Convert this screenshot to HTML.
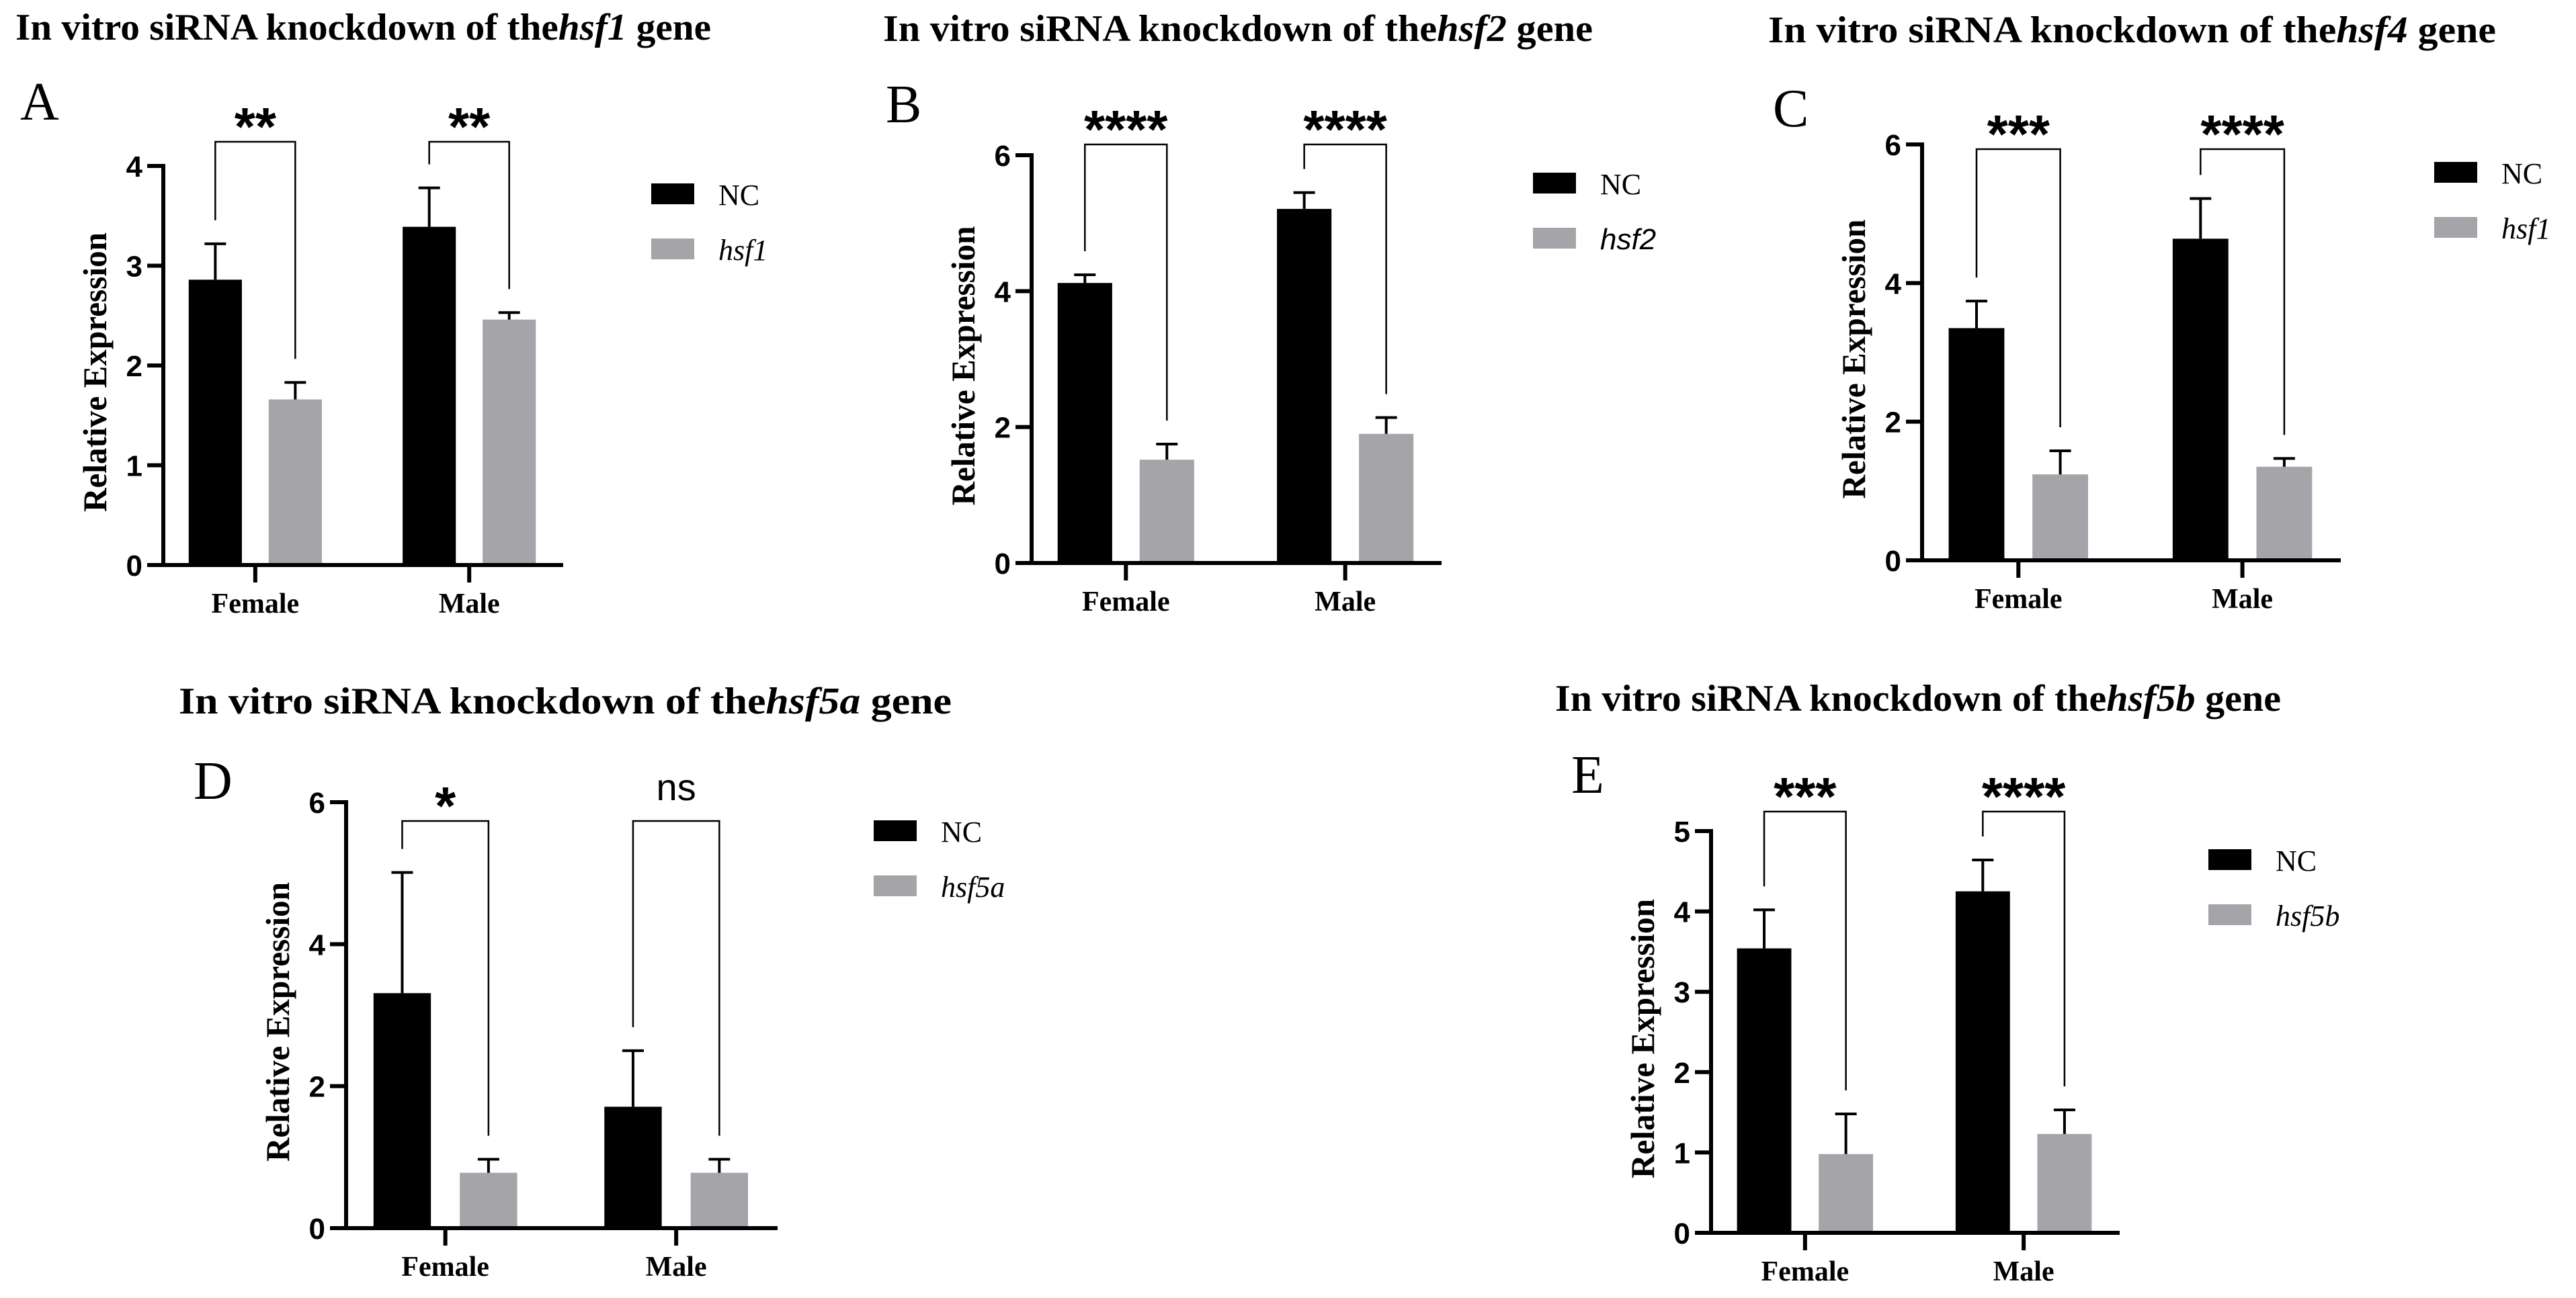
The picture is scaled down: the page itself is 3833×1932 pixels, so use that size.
<!DOCTYPE html>
<html><head><meta charset="utf-8"><style>
html,body{margin:0;padding:0;background:#fff;}
svg{display:block;}
</style></head><body>
<svg id="fig" width="3833" height="1932" viewBox="0 0 3833 1932" xmlns="http://www.w3.org/2000/svg"></svg>
<script>
// ---- data ----
const categories = ["Female", "Male"];
const seriesA = ["NC", "hsf1"];
const ncA = [2.86, 3.39];   const ncErrA = [3.22, 3.78];
const kdA = [1.66, 2.46];   const kdErrA = [1.83, 2.53];
const sigA = ["**", "**"];
const ticksA = [0, 1, 2, 3, 4];

const seriesB = ["NC", "hsf2"];
const ncB = [4.12, 5.21];   const ncErrB = [4.24, 5.45];
const kdB = [1.52, 1.90];   const kdErrB = [1.75, 2.14];
const sigB = ["****", "****"];
const ticksB = [0, 2, 4, 6];

const seriesC = ["NC", "hsf1"];
const ncC = [3.35, 4.64];   const ncErrC = [3.74, 5.22];
const kdC = [1.24, 1.35];   const kdErrC = [1.58, 1.47];
const sigC = ["***", "****"];
const ticksC = [0, 2, 4, 6];

const seriesD = ["NC", "hsf5a"];
const ncD = [3.31, 1.71];   const ncErrD = [5.01, 2.50];
const kdD = [0.78, 0.78];   const kdErrD = [0.97, 0.97];
const sigD = ["*", "ns"];
const ticksD = [0, 2, 4, 6];

const seriesE = ["NC", "hsf5b"];
const ncE = [3.54, 4.25];   const ncErrE = [4.02, 4.64];
const kdE = [0.98, 1.23];   const kdErrE = [1.48, 1.53];
const sigE = ["***", "****"];
const ticksE = [0, 1, 2, 3, 4, 5];

const NS = "http://www.w3.org/2000/svg";
const svg = document.getElementById("fig");
const GRAY = "#a5a5a9";

function mk(tag, attrs, parent, text) {
  const e = document.createElementNS(NS, tag);
  for (const k in attrs) e.setAttribute(k, attrs[k]);
  if (text !== undefined) e.textContent = text;
  (parent || svg).appendChild(e);
  return e;
}

function panel(p) {
  const g = mk("g", {});
  
  
  const t = mk("text", {x: p.titleX, y: p.titleY, "font-family": "Liberation Serif, serif", "font-weight": "bold", "font-size": 56, textLength: p.titleW, lengthAdjust: "spacingAndGlyphs"}, g);
  
  
  mk("tspan", {}, t, "In vitro siRNA knockdown of the");
  mk("tspan", {"font-style": "italic"}, t, p.gene);
  mk("tspan", {}, t, " gene");
  const L = mk("text", {x: p.letterX, y: p.letterY, "font-family": "Liberation Serif, serif", "font-size": 80}, g, p.letter);
  
  

  const x0 = p.ax, x1 = p.axEnd, y0 = p.y0;
  const ymax = p.ticks[p.ticks.length - 1];
  const yS = v => y0 - (y0 - p.yTop) * v / ymax;
  const W = x1 - x0;
  const catX = i => x0 + W * (0.23 + i * 0.535);
  const off = W * 0.1, bw = W * 0.133;

  for (let i = 0; i < categories.length; i++) {
    const groups = [[p.nc[i], p.ncErr[i], "#000", -1], [p.kd[i], p.kdErr[i], GRAY, 1]];
    const errTops = [];
    groups.forEach((gr, j) => {
      const cx = catX(i) + gr[3] * off;
      const r = mk("rect", {x: cx - bw / 2, y: yS(gr[0]), width: bw, height: y0 - yS(gr[0]), fill: gr[2]}, g);
      
      
      const e = mk("path", {d: `M${cx} ${yS(gr[0])}V${yS(gr[1])}M${cx - 16} ${yS(gr[1])}H${cx + 16}`, stroke: "#000", "stroke-width": 4, fill: "none"}, g);
      
      
      errTops.push([cx, yS(gr[1])]);
    });
    const bt = p.brTop;
    const b = mk("path", {d: `M${errTops[0][0]} ${errTops[0][1] - 35}V${bt}H${errTops[1][0]}V${errTops[1][1] - 35}`, stroke: "#000", "stroke-width": 2.5, fill: "none"}, g);
    
    
    const mid = (errTops[0][0] + errTops[1][0]) / 2;
    const isNs = p.sig[i] === "ns";
    const s = mk("text", {x: mid, y: isNs ? bt - 31 : bt + 5, "text-anchor": "middle", "font-family": "Liberation Sans, sans-serif", "font-weight": isNs ? "normal" : "bold", "font-size": isNs ? 56 : 80}, g, p.sig[i]);
    
    
    const ct = mk("line", {x1: catX(i), x2: catX(i), y1: y0, y2: y0 + 26, stroke: "#000", "stroke-width": 6}, g);
    
    
    const cl = mk("text", {x: catX(i), y: y0 + 71, "text-anchor": "middle", "font-family": "Liberation Serif, serif", "font-weight": "bold", "font-size": 42}, g, categories[i]);
    
    
  }
  const ya = mk("line", {x1: x0, x2: x0, y1: p.yTop - 3, y2: y0 + 3, stroke: "#000", "stroke-width": 6}, g);
  
  
  const xa = mk("line", {x1: x0 - 3, x2: x1, y1: y0, y2: y0, stroke: "#000", "stroke-width": 6}, g);
  
  
  p.ticks.forEach(v => {
    const tl = mk("line", {x1: x0 - 24, x2: x0, y1: yS(v), y2: yS(v), stroke: "#000", "stroke-width": 6}, g);
    
    
    const tx = mk("text", {x: x0 - 31, y: yS(v) + 16, "text-anchor": "end", "font-family": "Liberation Sans, sans-serif", "font-weight": "bold", "font-size": 44}, g, String(v));
    
    
  });
  const ycx = x0 - 102, ycy = (p.yTop + y0) / 2 + 10;
  const yt = mk("text", {x: ycx, y: ycy + 17, "text-anchor": "middle", transform: `rotate(-90 ${ycx} ${ycy})`, "font-family": "Liberation Serif, serif", "font-weight": "bold", "font-size": 50, textLength: 416, lengthAdjust: "spacingAndGlyphs"}, g, "Relative Expression");
  
  
  [["#000", p.series[0], false], [GRAY, p.series[1], true]].forEach((lg, k) => {
    const by = p.legY + k * 82;
    const lb = mk("rect", {x: p.legX, y: by, width: 64, height: 31, fill: lg[0]}, g);
    
    
    const lt = mk("text", {x: p.legX + 100, y: by + 32, "font-family": p.legSans && k === 1 ? "Liberation Sans, sans-serif" : "Liberation Serif, serif", "font-style": lg[2] ? "italic" : "normal", "font-size": 44}, g, lg[1]);
    
    
  });
}

panel({letter: "A", gene: "hsf1", series: seriesA, nc: ncA, ncErr: ncErrA, kd: kdA, kdErr: kdErrA, sig: sigA, ticks: ticksA,
  titleX: 23, titleY: 59, titleW: 1035, letterX: 30, letterY: 178,
  ax: 243, axEnd: 838, yTop: 247, y0: 841, brTop: 211, legX: 969, legY: 273});
panel({letter: "B", gene: "hsf2", series: seriesB, nc: ncB, ncErr: ncErrB, kd: kdB, kdErr: kdErrB, sig: sigB, ticks: ticksB,
  titleX: 1314, titleY: 61, titleW: 1056, letterX: 1318, letterY: 182,
  ax: 1535, axEnd: 2145, yTop: 231, y0: 838, brTop: 215, legX: 2281, legY: 257, legSans: true});
panel({letter: "C", gene: "hsf4", series: seriesC, nc: ncC, ncErr: ncErrC, kd: kdC, kdErr: kdErrC, sig: sigC, ticks: ticksC,
  titleX: 2631, titleY: 63, titleW: 1083, letterX: 2638, letterY: 188,
  ax: 2860, axEnd: 3483, yTop: 215, y0: 834, brTop: 222, legX: 3622, legY: 241});
panel({letter: "D", gene: "hsf5a", series: seriesD, nc: ncD, ncErr: ncErrD, kd: kdD, kdErr: kdErrD, sig: sigD, ticks: ticksD,
  titleX: 266, titleY: 1062, titleW: 1150, letterX: 288, letterY: 1189,
  ax: 515, axEnd: 1157, yTop: 1194, y0: 1828, brTop: 1222, legX: 1300, legY: 1221});
panel({letter: "E", gene: "hsf5b", series: seriesE, nc: ncE, ncErr: ncErrE, kd: kdE, kdErr: kdErrE, sig: sigE, ticks: ticksE,
  titleX: 2314, titleY: 1058, titleW: 1080, letterX: 2338, letterY: 1180,
  ax: 2546, axEnd: 3154, yTop: 1237, y0: 1835, brTop: 1208, legX: 3286, legY: 1264});
</script>
</body></html>
